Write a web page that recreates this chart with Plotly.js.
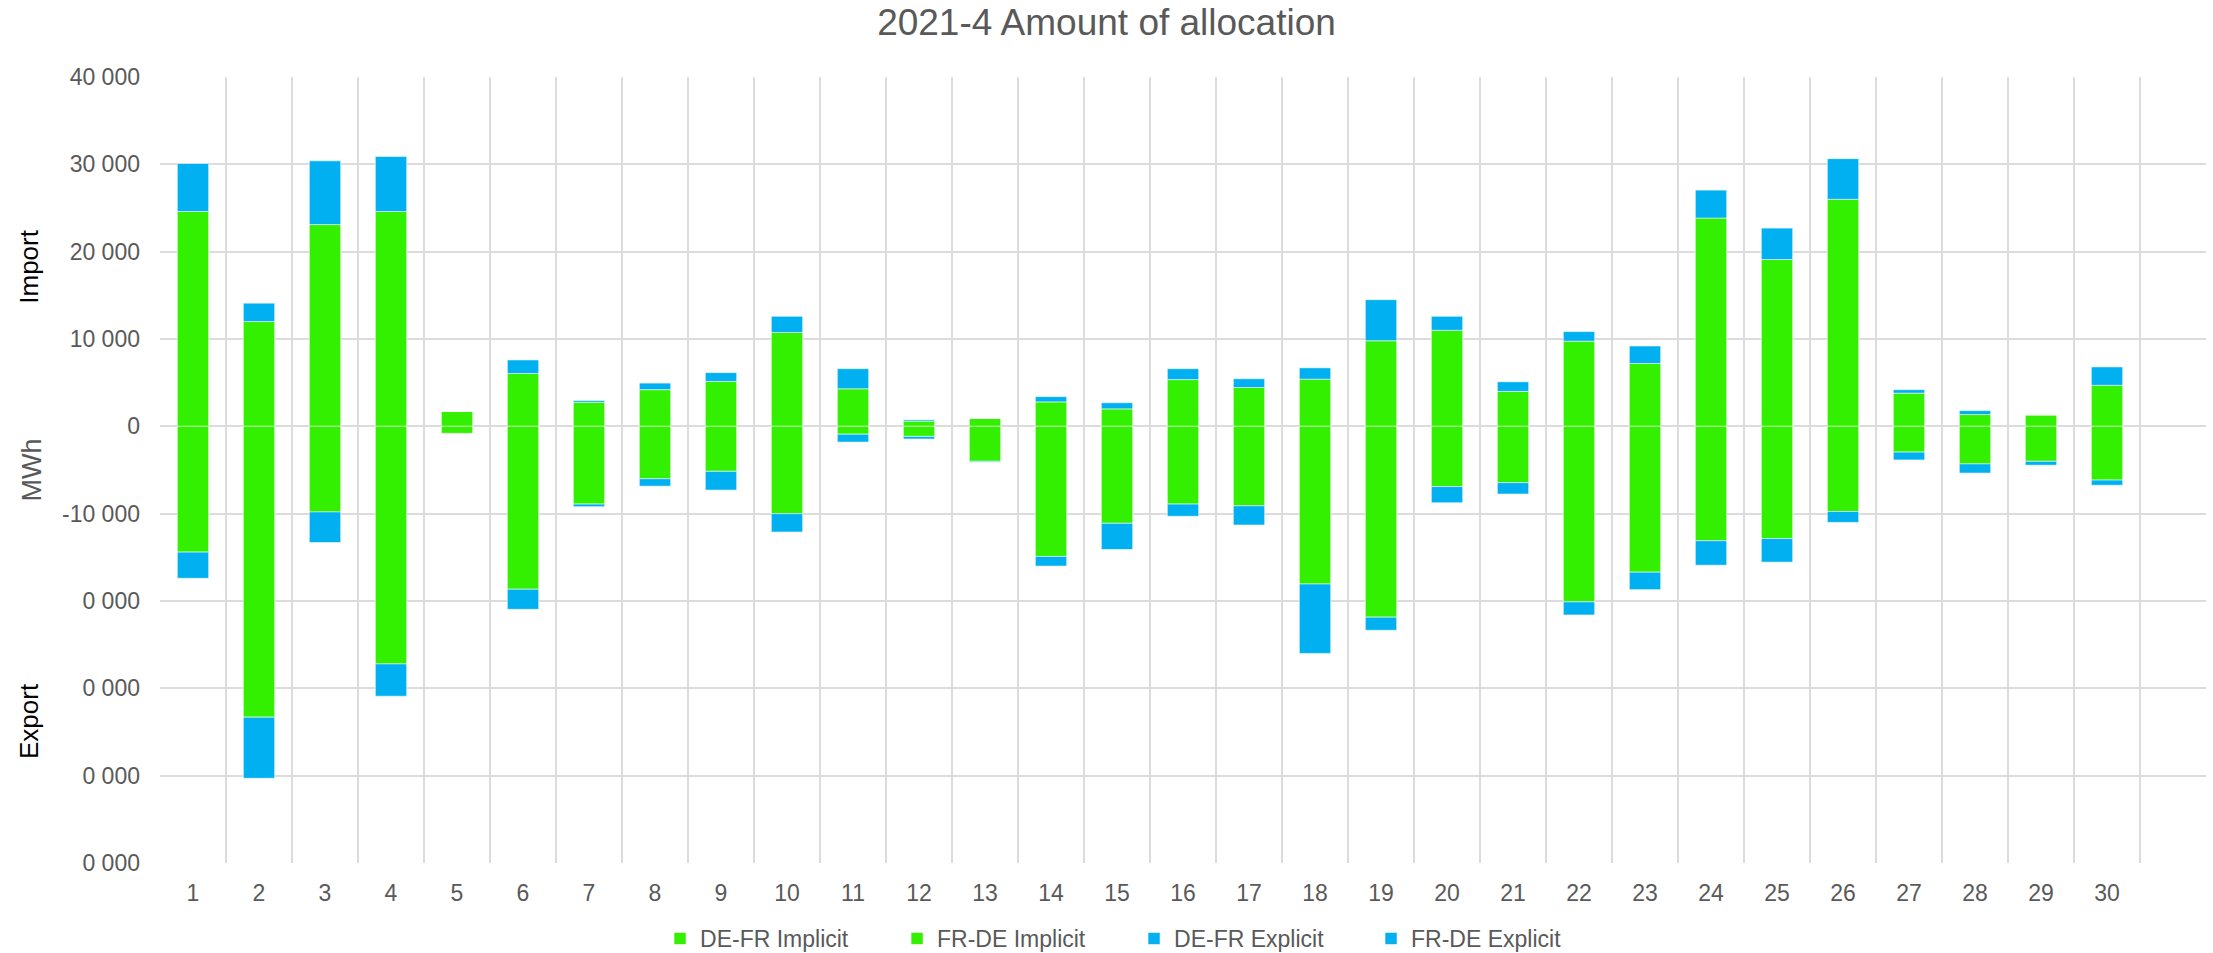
<!DOCTYPE html>
<html>
<head>
<meta charset="utf-8">
<script src="https://cdn.plot.ly/plotly-3.0.1.min.js"></script>
<style>
  html, body { margin: 0; padding: 0; background: #ffffff; }
  #chart { width: 2213px; height: 953px; }
</style>
</head>
<body>
<div id="chart"></div>
<script>
// ---- Data (MWh per day, April 2021) ----
const days = [1,2,3,4,5,6,7,8,9,10,11,12,13,14,15,16,17,18,19,20,21,22,23,24,25,26,27,28,29,30];
const dayLabels = days.map(String);

const deFrImplicit = [24600, 12000, 23100, 24600, 1700, 6050, 2750, 4200, 5150, 10750,
                      4300, 600, 900, 2800, 2000, 5350, 4450, 5400, 9800, 11000,
                      4000, 9750, 7200, 23850, 19100, 26000, 3800, 1350, 1300, 4700];
const frDeImplicit = [-14400, -33300, -9800, -27200, -800, -18650, -8900, -6000, -5150, -10000,
                      -900, -1150, -4000, -14900, -11100, -8900, -9100, -18050, -21850, -6900,
                      -6450, -20100, -16700, -13100, -12850, -9750, -2950, -4300, -4000, -6150];
const deFrExplicit = [5500, 2100, 7300, 6300, 0, 1550, 200, 750, 1000, 1850,
                      2300, 150, 0, 600, 700, 1250, 1000, 1300, 4700, 1600,
                      1100, 1100, 2000, 3200, 3600, 4650, 400, 450, 0, 2100];
const frDeExplicit = [-3000, -7000, -3500, -3700, 0, -2300, -300, -850, -2150, -2100,
                      -900, -300, -100, -1100, -3000, -1400, -2200, -7950, -1500, -1850,
                      -1300, -1500, -2000, -2800, -2700, -1250, -900, -1050, -450, -600];

const seriesNames = ["DE-FR Implicit", "FR-DE Implicit", "DE-FR Explicit", "FR-DE Explicit"];

const yTickVals = [-50000, -40000, -30000, -20000, -10000, 0, 10000, 20000, 30000, 40000];
const yTickText = ["0 000", "0 000", "0 000", "0 000", "-10 000", "0", "10 000", "20 000", "30 000", "40 000"];

const titleText = "2021-4 Amount of allocation";
const yTitle = "MWh";
const importLabel = "Import";
const exportLabel = "Export";

// ---- Styles ----
const GREEN = "#33F000";
const BLUE = "#00B0F0";
const GRID = "#DCDCDC";
const TXT = "#595959";
const FONT = "Liberation Sans, Arial, Helvetica, sans-serif";
const edge = { color: "rgba(255,255,255,0.55)", width: 1 };

function barTrace(name, values, color) {
  return {
    type: "bar",
    name: name,
    x: days,
    y: values,
    marker: { color: color, line: edge },
    hoverinfo: "x+y+name"
  };
}

const data = [
  barTrace(seriesNames[0], deFrImplicit, GREEN),
  barTrace(seriesNames[1], frDeImplicit, GREEN),
  barTrace(seriesNames[2], deFrExplicit, BLUE),
  barTrace(seriesNames[3], frDeExplicit, BLUE)
];

const layout = {
  width: 2213,
  height: 953,
  paper_bgcolor: "#ffffff",
  plot_bgcolor: "#ffffff",
  font: { family: FONT, size: 23, color: TXT },
  margin: { l: 160, r: 7, t: 77, b: 90, pad: 0 },
  barmode: "relative",
  bargap: 0.525,
  title: {
    text: titleText,
    font: { family: FONT, size: 37, color: TXT },
    xref: "container", x: 0.5, xanchor: "center",
    yref: "container", y: 0.9765, yanchor: "middle"
  },
  xaxis: {
    type: "linear",
    range: [0.5, 31.5],
    tickmode: "array",
    tickvals: days,
    ticktext: dayLabels,
    ticks: "",
    showgrid: false,
    zeroline: false,
    showline: false,
    ticklabelstandoff: 14,
    tickfont: { family: FONT, size: 23, color: TXT },
    minor: { tickmode: "linear", tick0: 0.5, dtick: 1, showgrid: true, gridcolor: GRID, gridwidth: 2, ticks: "" },
    fixedrange: true
  },
  yaxis: {
    range: [-50000, 40000],
    tickmode: "array",
    tickvals: yTickVals,
    ticktext: yTickText,
    ticks: "",
    showgrid: true,
    gridcolor: GRID,
    gridwidth: 2,
    zeroline: false,
    showline: false,
    ticklabelstandoff: 19,
    tickfont: { family: FONT, size: 23, color: TXT },
    title: { text: yTitle, font: { family: FONT, size: 27, color: TXT }, standoff: 12 },
    automargin: false,
    fixedrange: true
  },
  showlegend: true,
  legend: {
    orientation: "h",
    traceorder: "normal",
    xref: "paper", x: 0.2444, xanchor: "left",
    yref: "container", y: 0.0152, yanchor: "middle",
    entrywidth: 192,
    entrywidthmode: "pixels",
    font: { family: FONT, size: 23, color: TXT },
    bgcolor: "rgba(0,0,0,0)"
  },
  annotations: [
    { text: importLabel, xref: "paper", yref: "paper", x: -0.064, y: 0.7587,
      xanchor: "center", yanchor: "middle", showarrow: false, textangle: -90,
      font: { family: FONT, size: 26, color: "#000000" } },
    { text: exportLabel, xref: "paper", yref: "paper", x: -0.064, y: 0.1807,
      xanchor: "center", yanchor: "middle", showarrow: false, textangle: -90,
      font: { family: FONT, size: 26, color: "#000000" } }
  ]
};

Plotly.newPlot("chart", data, layout, { displayModeBar: false, staticPlot: true });
</script>
</body>
</html>
